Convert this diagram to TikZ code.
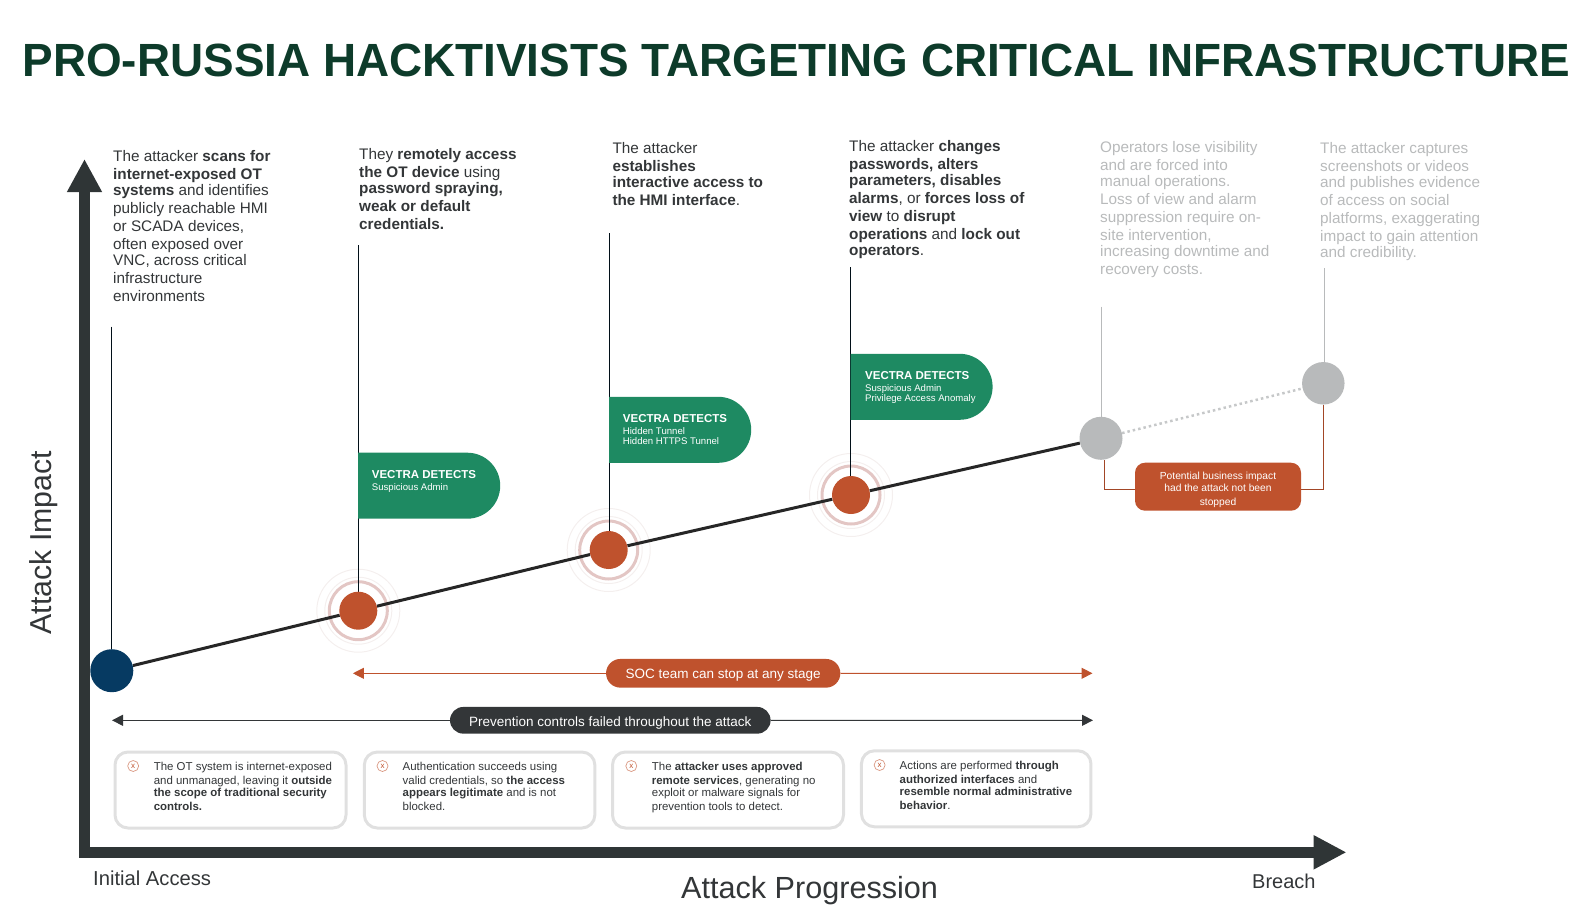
\documentclass[tikz,border=0pt]{standalone}
\usepackage{fontspec}
\setmainfont{Liberation Sans}
\newfontfamily\titlefont[FakeStretch=0.984]{Liberation Sans}
\usetikzlibrary{arrows.meta,shapes.misc}
\pgfdeclarelayer{background}
\pgfsetlayers{background,main}
\definecolor{titlegreen}{HTML}{0D3B2A}
\definecolor{axisgrey}{HTML}{2F3536}
\definecolor{bodygrey}{HTML}{333638}
\definecolor{ghostgrey}{HTML}{B8BABB}
\definecolor{rust}{HTML}{BF522D}
\definecolor{vectra}{HTML}{1E8A62}
\definecolor{navy}{HTML}{063A62}
\definecolor{ringpink}{HTML}{E3C6C4}
\definecolor{ringpale}{HTML}{F4EFEE}
\tikzstyle{stagetext}=[anchor=base west,inner sep=0pt,align=left,text=bodygrey,font=\fontsize{15.3}{18}\selectfont]
\tikzstyle{ghosttext}=[stagetext,text=ghostgrey]
\tikzstyle{vertex}=[circle,minimum size=38pt,inner sep=0pt,fill=rust]
\tikzstyle{stem} = [draw=black!75!navy,line width=1pt]
\tikzstyle{ghoststem} = [draw=ghostgrey,line width=1pt]
\tikzstyle{trend} = [draw=black!85,line width=3pt]
\tikzstyle{detectbox}=[rounded rectangle,rounded rectangle west arc=none,fill=vectra,minimum width=142pt,minimum height=66pt,inner sep=0pt]
\tikzstyle{detecttext}=[anchor=base west,inner sep=0pt,align=left,text=white,font=\fontsize{9.6}{10}\selectfont]
\tikzstyle{failbox}=[rounded corners=13pt,draw=black!12,line width=3pt,minimum height=76pt,inner sep=0pt]
\tikzstyle{failtext}=[anchor=base west,inner sep=0pt,align=left,text=bodygrey,font=\fontsize{11.45}{14}\selectfont]
\tikzstyle{failicon}=[circle,draw=rust!60,line width=0.7pt,minimum size=11pt,inner sep=0pt,text=rust,font=\fontsize{8}{8}\selectfont]
\tikzstyle{pilltext}=[rounded rectangle,inner sep=0pt,text=white,text depth=0pt,font=\fontsize{13.5}{16}\selectfont]
\tikzstyle{axislabel}=[anchor=base west,inner sep=0pt,text=bodygrey]
\begin{document}
\begin{tikzpicture}[x=1pt,y=-1pt]
    \useasboundingbox (0,0) rectangle (1592,910);

    % Title and axis names
    \node[anchor=base west,inner sep=0pt,text=titlegreen,font=\fontsize{46.6}{50}\titlefont\bfseries] (title) at (22.4,76.7) {PRO-RUSSIA HACKTIVISTS TARGETING CRITICAL INFRASTRUCTURE};
    \node[anchor=base,inner sep=0pt,rotate=90,text=bodygrey,font=\fontsize{30.3}{32}\selectfont] (impactname) at (51.3,542.5) {Attack Impact};
    \node[axislabel,font=\fontsize{30.6}{32}\selectfont] (progressname) at (681,898.7) {Attack Progression};
    \node[axislabel,font=\fontsize{20.2}{22}\selectfont] (initialname) at (93,885) {Initial Access};
    \node[axislabel,font=\fontsize{20}{22}\selectfont] (breachname) at (1252,888) {Breach};

    % The two axes
    \coordinate (ytip) at (84.5,159);
    \coordinate (corner) at (84.5,852.3);
    \coordinate (xtip) at (1346.5,852.3);
    \draw[draw=axisgrey,line width=10.7pt,miter limit=10,{Triangle[length=33pt,width=32.7pt]}-{Triangle[length=33pt,width=32pt]}] (ytip) -- (corner) -- (xtip);

    % First we draw the stages
    \foreach \pos/\name in {{(358.3,610.7)/impact2}, {(608.7,550)/impact3}, {(851,495)/impact4}}
        \node[vertex] (\name) at \pos {};
    \node[vertex,fill=navy,minimum size=43pt] (impact1) at (111.8,670.7) {};
    \node[vertex,fill=ghostgrey,minimum size=43pt] (impact5) at (1101,438.3) {};
    \node[vertex,fill=ghostgrey,minimum size=42.5pt] (impact6) at (1323.3,383.3) {};

    % Stage descriptions
    \node[stagetext] (stagetext1) at (113,301) {The attacker \textbf{scans for}\\ \textbf{internet-exposed OT}\\[-2pt] \textbf{systems} and identifies\\ publicly reachable HMI\\ or SCADA devices,\\ often exposed over\\[-2pt] VNC, across critical\\ infrastructure\\ environments};
    \node[stagetext] (stagetext2) at (359,229.3) {They \textbf{remotely access}\\ \textbf{the OT device} using\\[-2pt] \textbf{password spraying,}\\ \textbf{weak or default}\\ \textbf{credentials.}};
    \node[stagetext] (stagetext3) at (612.3,205.3) {The attacker\\ \textbf{establishes}\\[-2pt] \textbf{interactive access to}\\ \textbf{the HMI interface}.};
    \node[stagetext] (stagetext4) at (849,255.7) {The attacker \textbf{changes}\\ \textbf{passwords, alters}\\[-2pt] \textbf{parameters, disables}\\ \textbf{alarms}, or \textbf{forces loss of}\\ \textbf{view} to \textbf{disrupt}\\ \textbf{operations} and \textbf{lock out}\\[-2pt] \textbf{operators}.};
    \node[ghosttext] (stagetext5) at (1100,274.3) {Operators lose visibility\\ and are forced into\\[-2pt] manual operations.\\ Loss of view and alarm\\ suppression require on-\\ site intervention,\\[-2pt] increasing downtime and\\ recovery costs.};
    \node[ghosttext] (stagetext6) at (1320,257.3) {The attacker captures\\ screenshots or videos\\[-2pt] and publishes evidence\\ of access on social\\ platforms, exaggerating\\ impact to gain attention\\[-2pt] and credibility.};

    % Detection flags
    \foreach \pos/\name in {{(429.2,485.7)/detect1}, {(680.2,429.8)/detect2}, {(921.6,386.8)/detect3}}
        \node[detectbox] (\name) at \pos {};
    \node[detecttext] (detecttext1) at (371.7,490) {\textbf{\fontsize{11.5}{12}\selectfont VECTRA DETECTS}\\[2pt] Suspicious Admin};
    \node[detecttext] (detecttext2) at (622.7,444) {\textbf{\fontsize{11.5}{12}\selectfont VECTRA DETECTS}\\[2pt] Hidden Tunnel\\ Hidden HTTPS Tunnel};
    \node[detecttext] (detecttext3) at (865,401) {\textbf{\fontsize{11.5}{12}\selectfont VECTRA DETECTS}\\[2pt] Suspicious Admin\\ Privilege Access Anomaly};

    % Business impact box
    \node[rounded corners=10pt,fill=rust,minimum width=166pt,minimum height=48pt,inner sep=0pt,text=white,align=center,font=\fontsize{10.25}{13}\selectfont] (impactbox) at (1218,486.7) {\rule{0pt}{14pt}Potential business impact\\[-1pt] had the attack not been\\[1pt] stopped};

    % Pills over the two long arrows
    \node[pilltext,fill=rust,text height=10.5pt,minimum width=234.3pt,minimum height=28.7pt] (socpill) at (723.2,673.3) {SOC team can stop at any stage};
    \node[pilltext,fill=bodygrey,text height=11.5pt,minimum width=320.6pt,minimum height=26.7pt] (failpill) at (610.3,720.3) {Prevention controls failed throughout the attack};
    \coordinate (socleft) at (352.9,673.3);
    \coordinate (socright) at (1092.5,673.3);
    \coordinate (failleft) at (112,720.3);
    \coordinate (failright) at (1093,720.3);
    \draw[draw=rust,line width=1pt,-{Triangle[length=11pt,width=11pt]}] (socpill) -- (socleft);
    \draw[draw=rust,line width=1pt,-{Triangle[length=11pt,width=11pt]}] (socpill) -- (socright);
    \draw[draw=bodygrey,line width=1pt,-{Triangle[length=11pt,width=11pt]}] (failpill) -- (failleft);
    \draw[draw=bodygrey,line width=1pt,-{Triangle[length=11pt,width=11pt]}] (failpill) -- (failright);

    % Why prevention failed
    \foreach \pos/\wid/\name in {{(230.5,790)/231/failbox1}, {(479.6,790)/230.5/failbox2}, {(728,790)/231/failbox3}, {(976.2,788.8)/229.5/failbox4}}
        \node[failbox,minimum width=\wid pt] (\name) at \pos {};
    \foreach \pos/\name in {{(133.2,766)/failicon1}, {(382.5,766)/failicon2}, {(631.3,766)/failicon3}, {(879.6,765)/failicon4}}
        \node[failicon] (\name) at \pos {x};
    \node[failtext] (failtext1) at (153.6,810) {The OT system is internet-exposed\\ and unmanaged, leaving it \textbf{outside}\\[-2pt] \textbf{the scope of traditional security}\\ \textbf{controls.}};
    \node[failtext] (failtext2) at (402.5,810) {Authentication succeeds using\\ valid credentials, so \textbf{the access}\\[-2pt] \textbf{appears legitimate} and is not\\ blocked.};
    \node[failtext] (failtext3) at (651.7,810) {The \textbf{attacker uses approved}\\ \textbf{remote services}, generating no\\[-2pt] exploit or malware signals for\\ prevention tools to detect.};
    \node[failtext] (failtext4) at (899.5,809) {Actions are performed \textbf{through}\\ \textbf{authorized interfaces} and\\[-2pt] \textbf{resemble normal administrative}\\ \textbf{behavior}.};

    % Connect the stages, behind the vertices
    \coordinate (top1) at (111.3,326.7);
    \coordinate (top2) at (358.3,245);
    \coordinate (top3) at (609.3,233.3);
    \coordinate (top4) at (850.5,267.3);
    \coordinate (top5) at (1101.4,306.7);
    \coordinate (top6) at (1324.3,268.3);
    \coordinate (bendleft) at (1104.5,489.3);
    \begin{pgfonlayer}{background}
        \foreach \name in {impact2,impact3,impact4} {
            \draw[draw=ringpink,line width=3pt] (\name) circle (29pt);
            \draw[draw=ringpale,line width=1pt] (\name) circle (33.5pt);
            \draw[draw=ringpale,line width=1pt] (\name) circle (41.5pt);
        }
        \foreach \source/ \dest in {impact1/impact2, impact2/impact3, impact3/impact4, impact4/impact5}
            \path[trend] (\source) -- (\dest);
        \path[draw=ghostgrey!80,line width=2.5pt,dash pattern=on 2.5pt off 3pt] (impact5) -- (impact6);
        \foreach \source/ \dest in {top1/impact1, top2/impact2, top3/impact3, top4/impact4}
            \path[stem] (\source) -- (\source |- \dest.north);
        \foreach \source/ \dest in {top5/impact5, top6/impact6}
            \path[ghoststem] (\source) -- (\source |- \dest.north);
        \draw[draw=rust!85!black,line width=1pt] (bendleft |- impact5.south) -- (bendleft) -- (bendleft -| impactbox.west);
        \draw[draw=rust!85!black,line width=1pt] (bendleft -| impactbox.east) -- (bendleft -| impact6.south) -- (impact6.south);
    \end{pgfonlayer}
\end{tikzpicture}
\end{document}
